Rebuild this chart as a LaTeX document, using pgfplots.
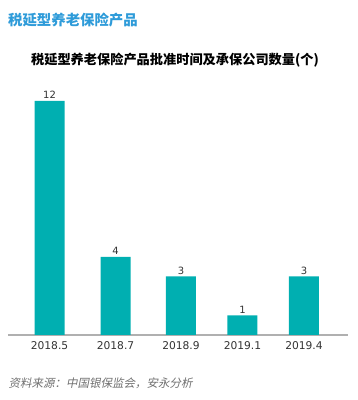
\documentclass[border=0pt]{standalone}
\usepackage{fontspec}
\usepackage{pgfplots}
\pgfplotsset{compat=1.18}
\setmainfont{DejaVu Sans}
\newfontfamily\cjk{Noto Sans CJK SC}
\newfontfamily\cjkit[FakeSlant=0.2]{Noto Sans CJK SC}
\definecolor{titleblue}{HTML}{2E9BD9}
\definecolor{barteal}{HTML}{00AFB1}
\definecolor{axisgray}{HTML}{B0B0B0}
\definecolor{ticktext}{HTML}{333333}
\definecolor{srcgray}{HTML}{707070}
\begin{document}
\begin{tikzpicture}
\path[use as bounding box] (0pt,0pt) rectangle (358pt,400pt);
\node[anchor=west,text=titleblue,font=\cjk\bfseries\fontsize{14.4}{16}\selectfont,inner sep=0pt] at (8pt,380pt) {税延型养老保险产品};
\node[anchor=center,text=black,font=\cjk\bfseries\fontsize{13.2}{15}\selectfont,inner sep=0pt] at (175pt,340pt) {税延型养老保险产品批准时间及承保公司数量(个)};
\node[anchor=west,text=srcgray,font=\cjkit\fontsize{11.5}{13}\selectfont,inner sep=0pt] at (8.5pt,17pt) {资料来源：中国银保监会，安永分析};
\begin{axis}[
  at={(8pt,65pt)}, anchor=south west,
  scale only axis, width=340pt, height=234pt,
  xmin=-0.629, xmax=4.523, ymin=0, ymax=12,
  axis x line*=bottom, axis y line=none,
  x axis line style={draw=axisgray, line width=1.2pt, -},
  xtick={0,1,1.992,2.924,3.856},
  xticklabels={2018.5,2018.7,2018.9,2019.1,2019.4},
  xtick style={draw=none},
  x tick label style={text=ticktext, font=\fontsize{10.7}{12}\selectfont, yshift=-3.5pt},
  ytick=\empty,
  clip=false,
  /pgf/number format/assume math mode=true,
  nodes near coords,
  every node near coord/.append style={text=ticktext, font=\fontsize{10}{12}\selectfont, yshift=-1.5pt},
]
\addplot[ybar, bar width=30pt, fill=barteal, draw=none] coordinates {
  (0,12) (1,4) (1.992,3) (2.924,1) (3.856,3)
};
\end{axis}
\end{tikzpicture}
\end{document}
